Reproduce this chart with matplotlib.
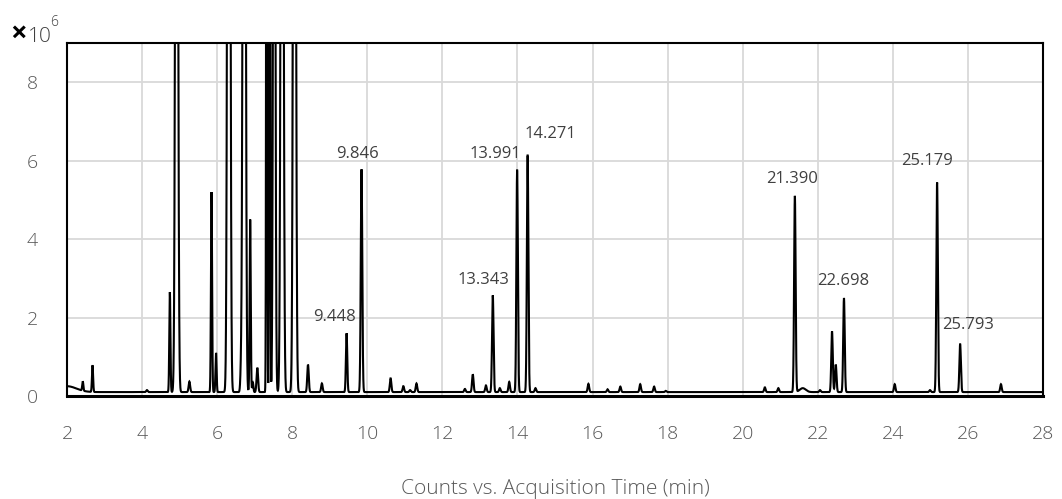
import matplotlib.pyplot as plt
import numpy as np

# peak table: retention time (min), height (x10^6 counts), width (sigma, min)
rt = [2.00, 2.42, 2.68, 4.13, 4.74, 4.92, 5.26, 5.85, 5.97, 6.31, 6.64, 6.72,
      6.88, 6.95, 7.07, 7.32, 7.40, 7.52, 7.73, 8.06, 8.42, 8.79, 9.448, 9.846,
      10.62, 10.96, 11.14, 11.31, 12.60, 12.81, 13.16, 13.343, 13.53, 13.78,
      13.991, 14.271, 14.48, 15.89, 16.40, 16.74, 17.27, 17.64, 17.95, 20.59,
      20.95, 21.390, 21.60, 22.06, 22.38, 22.48, 22.698, 24.05, 24.99, 25.179,
      25.793, 26.88]
height = [0.15, 0.24, 0.68, 0.05, 2.55, 30.0, 0.27, 5.1, 1.0, 40.0, 0.6, 35.0,
          4.4, 0.25, 0.62, 30.0, 30.0, 26.0, 32.0, 30.0, 0.7, 0.22, 1.5, 5.68,
          0.35, 0.15, 0.05, 0.22, 0.08, 0.45, 0.17, 2.47, 0.1, 0.26, 5.66,
          6.04, 0.1, 0.21, 0.07, 0.14, 0.2, 0.14, 0.03, 0.12, 0.1, 5.0, 0.1,
          0.05, 1.55, 0.7, 2.4, 0.2, 0.05, 5.35, 1.22, 0.2]
width = [0.25, 0.015, 0.015, 0.02, 0.015, 0.03, 0.02, 0.015, 0.015, 0.03, 0.02,
         0.03, 0.015, 0.015, 0.02, 0.012, 0.012, 0.025, 0.03, 0.03, 0.02, 0.02,
         0.018, 0.02, 0.02, 0.02, 0.02, 0.02, 0.02, 0.02, 0.02, 0.02, 0.02,
         0.02, 0.02, 0.02, 0.02, 0.02, 0.02, 0.02, 0.02, 0.02, 0.02, 0.02,
         0.02, 0.02, 0.08, 0.02, 0.02, 0.02, 0.02, 0.02, 0.02, 0.02, 0.02,
         0.02]
baseline = 0.1

labeled = [9.448, 9.846, 13.343, 13.991, 14.271, 21.390, 22.698, 25.179, 25.793]
# label offsets in pixels from the peak apex
label_dx = [-12, -4, -9, -22, 23, -3, -1, -10, 8]
label_dy = [8, 7, 7, 8, 13, 9, 9, 14, 11]

t = np.arange(2.0, 28.0, 0.002)
signal = np.full_like(t, baseline)
for c, h, w in zip(rt, height, width):
    signal += h * np.exp(-0.5 * ((t - c) / w) ** 2)

plt.rcParams['font.family'] = ['Open Sans', 'DejaVu Sans']
fig = plt.figure(figsize=(10.62, 4.99), dpi=100)
ax = fig.add_axes([0.0631, 0.2064, 0.9190, 0.7074])

ax.plot(t, signal, color='black', lw=1.5, solid_joinstyle='miter')
ax.set_xlim(2, 28)
ax.set_ylim(0, 9)
ax.set_xticks(range(2, 29, 2))
ax.set_yticks(range(0, 9, 2))
ax.grid(True, color='#d9d9d9', lw=1.3)
ax.set_axisbelow(True)
ax.tick_params(length=0, pad=21, labelsize=14, labelcolor='#595959')
for lbl in ax.get_xticklabels() + ax.get_yticklabels():
    lbl.set_fontweight('light')
for s in ax.spines.values():
    s.set_linewidth(1.5)
ax.spines['bottom'].set_linewidth(2.2)
ax.set_xlabel('Counts vs. Acquisition Time (min)', fontsize=15,
              color='#595959', labelpad=26, fontweight='light')

for r, dx, dy in zip(labeled, label_dx, label_dy):
    top = signal[np.argmin(np.abs(t - r))]
    ax.annotate(f'{r:.3f}', (r, top), xytext=(dx, dy),
                textcoords='offset pixels', ha='center', va='bottom',
                fontsize=12, color='#404040')

fig.text(0.010, 0.916, '×', fontsize=21, fontweight='bold', color='black',
         ha='left', va='baseline')
fig.text(0.026, 0.916, '10', fontsize=15, color='#404040', ha='left',
         va='baseline', fontweight='light')
fig.text(0.047, 0.948, '6', fontsize=10, color='#404040', ha='left',
         va='baseline', fontweight='light')

fig.savefig('out.png', dpi=100)
